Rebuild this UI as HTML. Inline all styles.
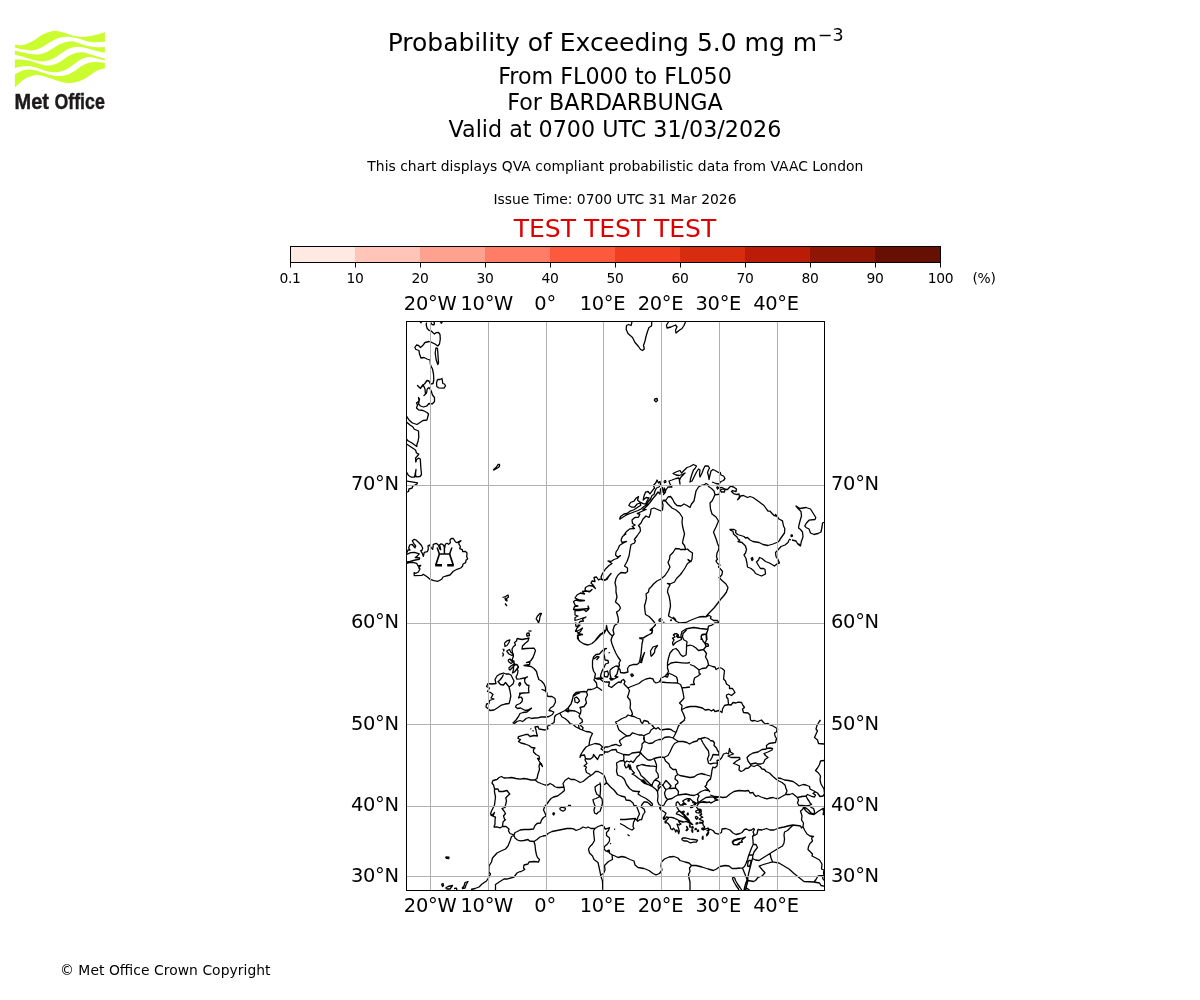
<!DOCTYPE html>
<html><head><meta charset="utf-8"><title>Probability of Exceeding 5.0 mg m-3</title>
<style>
html,body{margin:0;padding:0;background:#fff;}
svg{display:block;font-family:"DejaVu Sans","Liberation Sans",sans-serif;fill:#000;}
.t10{font-size:13.89px;}
.t14{font-size:19.44px;letter-spacing:-0.3px;}
.t16{font-size:22.22px;}
.t18{font-size:25px;}
.mid{text-anchor:middle;}
.end{text-anchor:end;}
.grid line{stroke:#b0b0b0;stroke-width:1;}
.coast path{fill:none;stroke:#000;stroke-width:1.3;stroke-linejoin:round;}
</style></head><body>
<svg width="1200" height="1000" viewBox="0 0 1200 1000">
<rect width="1200" height="1000" fill="#fff"/>
<!-- LOGO -->
<g id="logo"><path fill="#cbfc2f" d="M14.9 44.4C16.2 44.5 19.8 45.7 22.7 45.2C25.6 44.7 28.9 43.1 32.3 41.3C35.6 39.5 39.5 36.1 42.7 34.4C45.8 32.7 49.0 31.9 51.3 31.4C53.6 30.8 54.4 30.7 56.5 30.9C58.7 31.1 61.6 31.9 64.3 32.7C67.1 33.5 70.1 35.0 73.0 35.7C75.9 36.4 78.8 36.9 81.7 37.0C84.6 37.1 87.4 36.6 90.3 36.1C93.2 35.6 96.6 34.6 99.0 34.0C101.4 33.3 103.9 32.5 104.9 32.2L104.9 41.8C103.2 41.8 97.8 42.3 94.7 42.2C91.5 42.1 88.9 41.5 86.0 40.9C83.1 40.2 79.9 38.9 77.3 38.3C74.7 37.6 72.7 37.2 70.4 37.0C68.1 36.8 65.8 36.7 63.5 37.0C61.2 37.3 59.0 37.7 56.5 38.7C54.1 39.7 51.3 41.5 48.7 43.1C46.1 44.6 43.7 46.6 40.9 47.8C38.2 49.1 35.2 50.1 32.3 50.4C29.4 50.7 26.5 50.1 23.6 49.6C20.7 49.1 16.4 47.8 14.9 47.4Z M14.9 50.4C16.4 50.8 20.7 52.0 23.6 52.6C26.5 53.2 29.4 54.1 32.3 54.3C35.2 54.5 38.2 54.5 40.9 53.9C43.7 53.3 46.1 52.2 48.7 50.9C51.3 49.6 53.9 47.5 56.5 46.1C59.1 44.7 61.7 43.4 64.3 42.6C66.9 41.8 69.5 41.2 72.1 41.3C74.7 41.5 77.3 42.7 79.9 43.5C82.5 44.3 85.0 45.5 87.7 46.1C90.5 46.7 93.5 47.1 96.4 47.2C99.3 47.4 103.5 47.0 104.9 47.0L104.9 52.6C103.5 52.3 99.0 51.4 96.4 50.9C93.8 50.3 91.8 49.7 89.5 49.1C87.2 48.5 84.7 47.6 82.5 47.2C80.4 46.8 78.8 46.5 76.5 46.7C74.2 47.0 71.1 47.6 68.7 48.7C66.2 49.8 64.0 51.5 61.7 53.0C59.4 54.5 57.3 56.5 54.8 57.8C52.3 59.1 49.6 60.3 47.0 60.8C44.4 61.4 41.9 61.6 39.2 61.3C36.5 61.0 33.4 59.9 30.5 59.1C27.6 58.3 24.5 57.2 21.9 56.5C19.3 55.8 16.1 55.1 14.9 54.8Z M14.9 59.5C15.9 59.5 18.5 59.3 21.0 59.5C23.5 59.8 26.8 60.2 29.7 60.8C32.6 61.5 35.4 62.6 38.3 63.4C41.2 64.2 44.3 65.5 47.0 65.6C49.7 65.7 52.3 65.1 54.8 64.3C57.3 63.5 59.4 62.2 61.7 60.8C64.0 59.5 66.4 57.4 68.7 56.1C71.0 54.8 73.3 53.7 75.6 53.0C77.9 52.4 80.2 52.0 82.5 52.2C84.8 52.3 87.0 53.2 89.5 53.9C91.9 54.6 94.7 55.7 97.3 56.5C99.8 57.3 103.6 58.3 104.9 58.7L104.9 60.4C103.9 60.2 101.0 59.6 99.0 59.1C97.0 58.6 95.1 57.7 92.9 57.4C90.8 57.1 88.3 56.9 86.0 57.4C83.7 57.9 81.4 59.0 79.1 60.4C76.8 61.8 74.4 64.0 72.1 65.6C69.8 67.2 67.5 68.9 65.2 69.9C62.9 71.0 60.6 71.7 58.3 72.1C56.0 72.5 53.6 72.4 51.3 72.1C49.0 71.8 46.9 71.1 44.4 70.4C41.9 69.6 39.2 68.5 36.6 67.8C34.0 67.0 31.3 66.2 28.8 66.0C26.3 65.8 24.2 66.1 21.9 66.5C19.6 66.8 16.1 67.9 14.9 68.2Z M14.9 74.3C15.9 73.8 18.8 72.0 21.0 71.2C23.2 70.4 25.5 69.6 27.9 69.5C30.4 69.4 33.0 69.8 35.7 70.4C38.5 70.9 41.5 72.1 44.4 73.0C47.3 73.8 50.2 75.1 53.1 75.6C56.0 76.1 59.1 76.2 61.7 76.0C64.3 75.8 66.4 75.2 68.7 74.3C71.0 73.3 73.3 71.8 75.6 70.4C77.9 68.9 80.2 66.9 82.5 65.6C84.8 64.3 87.2 63.2 89.5 62.6C91.8 62.0 93.8 61.9 96.4 62.0C99.0 62.0 103.5 62.8 104.9 63.0L104.9 68.6C104.1 68.8 101.7 68.8 99.9 69.5C98.0 70.2 95.8 71.3 93.8 72.5C91.8 73.8 89.8 75.6 87.7 76.9C85.7 78.2 83.8 79.4 81.7 80.3C79.5 81.3 77.2 82.1 74.7 82.5C72.3 82.9 69.5 83.2 66.9 82.9C64.3 82.7 61.7 81.9 59.1 81.2C56.5 80.5 54.1 79.5 51.3 78.6C48.6 77.7 45.3 76.6 42.7 76.0C40.1 75.4 38.0 75.0 35.7 75.1C33.4 75.3 31.0 76.0 28.8 76.9C26.6 77.7 24.6 79.0 22.7 80.3C20.9 81.7 18.8 83.9 17.5 85.1C16.2 86.3 15.4 86.9 14.9 87.3Z"/>
<g font-family="'Liberation Sans',sans-serif" font-weight="bold" font-size="22.3px" fill="#1d1a1b" stroke="#1d1a1b" stroke-width="0.45"><text x="14.5" y="109.1" textLength="34.4" lengthAdjust="spacingAndGlyphs">Met</text><text x="54.4" y="109.1" textLength="50.4" lengthAdjust="spacingAndGlyphs">Office</text></g></g>
<!-- TITLES -->
<text class="t18 mid" x="615.6" y="51">Probability of Exceeding 5.0 mg m<tspan dx="0.6" dy="-9.7" font-size="17.5px">−3</tspan></text>
<text class="t16 mid" x="615" y="84">From FL000 to FL050</text>
<text class="t16 mid" x="615" y="110">For BARDARBUNGA</text>
<text class="t16 mid" x="615" y="137">Valid at 0700 UTC 31/03/2026</text>
<text class="t10 mid" x="615.3" y="171" textLength="495.9">This chart displays QVA compliant probabilistic data from VAAC London</text>
<text class="t10 mid" x="615" y="204">Issue Time: 0700 UTC 31 Mar 2026</text>
<text class="t18 mid" x="615" y="237" fill="#dd0000">TEST TEST TEST</text>
<!-- COLORBAR -->
<g id="cbar" shape-rendering="crispEdges">
<rect x="290" y="246" width="65" height="17" fill="#ffe9e2"/>
<rect x="355" y="246" width="65" height="17" fill="#ffc5b9"/>
<rect x="420" y="246" width="65" height="17" fill="#ffa18f"/>
<rect x="485" y="246" width="65" height="17" fill="#ff7d66"/>
<rect x="550" y="246" width="65" height="17" fill="#fd593d"/>
<rect x="615" y="246" width="65" height="17" fill="#f03e22"/>
<rect x="680" y="246" width="65" height="17" fill="#d72c10"/>
<rect x="745" y="246" width="65" height="17" fill="#ba1c07"/>
<rect x="810" y="246" width="65" height="17" fill="#8f1505"/>
<rect x="875" y="246" width="65" height="17" fill="#660f03"/>
</g>
<rect x="290.5" y="246.5" width="650" height="16" fill="none" stroke="#000" stroke-width="1"/>
<g stroke="#000" stroke-width="1">
<line x1="290.5" y1="262" x2="290.5" y2="267.5"/><line x1="355.5" y1="262" x2="355.5" y2="267.5"/><line x1="420.5" y1="262" x2="420.5" y2="267.5"/><line x1="485.5" y1="262" x2="485.5" y2="267.5"/><line x1="550.5" y1="262" x2="550.5" y2="267.5"/><line x1="615.5" y1="262" x2="615.5" y2="267.5"/><line x1="680.5" y1="262" x2="680.5" y2="267.5"/><line x1="745.5" y1="262" x2="745.5" y2="267.5"/><line x1="810.5" y1="262" x2="810.5" y2="267.5"/><line x1="875.5" y1="262" x2="875.5" y2="267.5"/><line x1="940.5" y1="262" x2="940.5" y2="267.5"/>
</g>
<g class="t10 mid" style="letter-spacing:-0.4px">
<text x="290" y="283">0.1</text><text x="355" y="283">10</text><text x="420" y="283">20</text><text x="485" y="283">30</text><text x="550" y="283">40</text><text x="615" y="283">50</text><text x="680" y="283">60</text><text x="745" y="283">70</text><text x="810" y="283">80</text><text x="875" y="283">90</text><text x="940.5" y="283">100</text>
<text x="984" y="283">(%)</text>
</g>
<!-- MAP -->
<defs><clipPath id="mapclip"><rect x="406.5" y="321.5" width="418" height="569"/></clipPath></defs>
<g class="coast" id="coast" clip-path="url(#mapclip)"><path d="M426.5 322.5 L426.2 325 L427.2 328.5 L429 330.3 L431 330.8 L433 332.8 L434.5 334 L436 332.7 L438.5 332.5 L440 334.5 L440.3 339 L439.5 344 L437.8 346 L435 344 L431 342.2 L429 341.5 L425 342.5 L422.5 345.8 L420.5 347.5 L418.5 345.5 L416.5 345 L414.8 347.5 L416 349.5 L419 350.5 L419.5 354 L421 358 L424 357.5 L427 359 L430 360 L430.5 365 L432.5 369 L433.5 374 L433.8 380 L433 383.5 L430.5 384.2 L429 381 L427 380.5 L424.5 384 L422.5 385 L420.5 388.5 L417.5 385.5 L420 388 L423.5 385.5 L425 389 L425.5 394 L424 395.5 L426.5 393 L427.2 389 L429 387.5 L431 390.5 L432.5 395 L434.5 397.5 L434.5 401.5 L432.5 403.8 L429 403.5 L427 405.8 L423.5 407 L420.5 406 L418.5 404 L419.5 399 L418.5 397.5 L419 401 L416.5 403 L417.5 405 L416.5 408 L418.5 409.8 L423 410.5 L427 412.5 L428.5 414 L427 420 M420 322.2 L421 322.8 L421.5 322.2 M430.5 322.2 L432 324.5 L434 324.8 L434.5 323 L433.5 322.2 M440.5 322.2 L441.2 323.2 L442.5 322.2 M406.5 416 L409 420 M436 347.5 L435.2 353 L436.2 360 L437.8 364.5 L438.5 363 L438 355 L437.5 348.5 L436 347.5 M437.5 379.5 L436.5 383 L436.8 386.5 L438.5 387.8 L444 388.2 L445.5 386 L444.5 384 L442.8 383.5 L442 378.5 L440 379.5 L437.5 379.5 M427 420 L423 420.5 L417 424.5 L412.5 423 L409 420 M406.5 422 L410 425 L413 427 L414 429 L418.5 431 L418.8 437 L418 441.5 L417 444 L416.8 446.5 L412 443 L408 440.8 L406.5 439 M406.5 444 L411 447 L415.5 450 L416.5 453 L418.8 454 L417 456.5 L415.5 458 L415.8 462 L416.5 459.5 L418.5 458.2 L420.3 459 L420.8 467 L421.5 474.5 L420 476.5 L416 476.8 L415.5 474 L416 469.5 L415.2 474 L414.5 477 L411.5 477.2 L408.5 475.5 L406.5 472 M406.5 481.2 L412 481.8 L417.5 482.8 L417 484 L414 485.5 L412.5 486.5 L412 488.2 L409 489 L408.5 491.5 L406.5 492.2 M493.2 470 L496.5 467 L498 464.5 L499.5 464.5 L499.5 466.5 L497.5 468 L494 470 L493.2 470 M406.7 553 L408 550 L410 550 L408.7 548 L409.7 545 L412 544.3 L415 547.7 L415.7 546 L413.7 543.3 L412.3 540.7 L414.3 539.3 L416 540 L419 542.7 L421.3 545.3 L422.7 548 L422 550.3 L420.7 550.7 L422.3 553.3 L423.3 556.3 L424.3 552.3 L427.3 551.7 L428.3 549.3 L428 545.7 L429.3 545 L431 547.3 L432.7 549.3 L433.3 544.3 L436.3 543.3 L438.3 545 L440 549.3 L440.7 549.7 L440 546.3 L439.7 544.8 L441 543.9 L442.7 544.3 L444 546 L444.7 547.7 L445.3 544.3 L447 543.3 L448.7 544.3 L450.3 542.7 L450 540 L451.3 538.5 L453.3 538.5 L455.3 541.7 L457 542.7 L461 540.7 L458.7 542.7 L459 544.3 L460 545.7 L460.3 546.7 L459.7 548.7 L462.3 549.7 L462.7 551.7 L465.3 551.3 L467 553 L466.7 556.7 L467.7 558.7 L466 560.3 L465.7 562.7 L463 564 L462.7 566 L460.7 568 L457 569.3 L453.3 571.3 L450 575 L446 576 L443 577 L441.7 579.3 L438 581.3 L434 580.7 L430 579.3 L427.7 577.3 L426.3 576.3 L423.3 574.3 L422 575.3 L414.3 575.7 L414.1 572.7 L416 573.3 L418.3 572 L420 569 L418.7 568 L420.7 565.3 L418 566 L416.7 563.3 L413 562.3 L409.3 562.7 L406.7 563.3 M406.7 554.3 L410.7 552.7 L414.7 552.3 L419.3 553.9 L417 556.3 L415.3 557.5 L419.7 558 L419.3 559.3 L415.3 560 L410 561.3 L406.7 562 M502.5 597.5 L505.5 596.5 L508 595 L508.5 597 L506.5 598.5 L507 601 L505.5 600 L505 597.5 M505 603.5 L507 606 M517 638.5 L522 639.5 L527 638.5 L529 638 L528 641 L525 643.5 L522.5 646 L522 649 L526 648.5 L534 648.2 L535.5 650.5 L534.5 653.5 L533 657.5 L530.5 661 L526.5 662.5 L530 662 L529.5 664.5 L524 665.5 L528 666 L531 666.5 L534 668.5 L536.5 671.5 L537.5 675.5 L538.8 679.5 L541.5 681 L544 684 L545.5 687.5 L545.5 691 L542 689.5 L545 690.5 L547 693 L547.2 696 L549 696.5 L552 696.5 L555 698.5 L555.5 702 L553.5 706 L550.5 708 L549 710.5 L551.5 711 L553.8 712 L552.5 714.5 L549 716.5 L546 717 L541 717 L538 717.8 L534.5 718 L531.5 718.5 L529 717.5 L526 718.5 L524 720.5 L522.5 721.5 L520 720.5 L517 721.5 L514.5 723.5 L513 723 L516 720 L518.5 716.5 L520 713.5 L523 712.5 L527 712 L529.5 710 L531.5 708.2 L528 710 L525.5 710.5 L523.5 709.5 L520.5 708 L517.5 708.5 L515.5 707 L516.5 705 L520 703.5 L522 701.5 L522.5 699 L521 697 L518.5 698 L519.5 695.5 L520 693.5 L523 693 L527 692.8 L529 692.5 L528.5 689 L529 685.5 L527 685 L525 682.5 L524.5 679.5 L526 677.5 L527.5 676.8 L524 678 L520 678.8 L517 679.2 L516 677 L517.5 674 L518 671 L517 668.5 L518.5 667 L516.5 664.5 L514 665 L514 661 L512 660 L513.5 656 L512.5 653 L512 649 L513.5 646.5 L515.5 645 L514.5 642.5 L516.5 641 L517 638.5 M504.5 643 L507.5 640.5 L509.8 639.8 L509 642.5 L507 645.5 L505 646.5 L504.5 643 M502.5 649 L504 649.5 L503.5 651.5 M502.5 652.5 L503.5 654.5 L502.5 656.5 M506.5 651 L509.5 649.5 L511 652.5 L513.5 654 L512 655.5 L509 654 L506.5 651 M508 660 L510 659 L511.5 661 L513 662 L511 663.5 L509 662 L508 660 M508.5 668.5 L511 666 L512.5 665 L514.5 663.5 L513 667 L510 670 L508.5 668.5 M513.5 666.5 L515 664.5 L517.5 665 L518.5 667.5 L516.5 669.5 L514.5 672 L512.5 673 L513.5 669.5 L513.5 666.5 M526.5 633.5 L529 633 L529.5 635.5 L527 636 L526.5 633.5 M528.5 630.8 L531.5 631.2 M518.5 684.5 L520 682.5 L520.8 684 L519.5 686 L518.5 684.5 M519.5 692.8 L521 693.5 L520 694.5 L519.5 692.8 M509 674 L511 675 L512.5 678 L514 681 L513 684 L510.5 686 L509 687 L510 691 L510.8 696 L510 700 L509 703.5 L505 704 L501.5 705 L498 707.5 L494 710 L490 710.5 L488.5 709 L486 707 L486.5 704 L489 703.5 L489.5 700.5 L494 699 L491 698 L493 694.5 L490.5 692.5 L487.5 691.5 L489.5 688 L486.5 686.5 L488 683.5 L492 684 L496 683.5 L495 679.5 L497 676 L500 674 L503.5 673 L506 674 L509 674 M503.5 674.5 L502 677.5 L499.5 680.5 L498 681.5 L500.5 684.5 L503.5 685 L505.5 682.5 L507.5 685 L509 686.8 M572.5 700 L571 704 L568 708 L565 710.5 L560 713 L556 715 L554.5 717 L554.5 720 M566.5 709 L568.5 708.5 L569 710.5 L567 711 L566.5 709 M632 322 L631 325.5 L628.5 324.5 L626.5 325.5 L626.2 329.5 L628 333.5 L632.5 337.5 L635 342.5 L638.5 346.5 L640.5 349.5 L642.5 350.5 L644.3 349 L643.5 345.5 L645 341 L646 336.5 L647.5 331.5 L649 327.5 L651.5 326 L651.8 322 M668.5 322 L666.5 325 L667 328 L671 327 L675.5 325 L677 327 L675.5 330 L676 333 L679 330.5 L682 328.5 L684 325.5 L685.5 322 M654.5 399 L657 398.5 L657.5 400.5 L656 401.8 L654.5 400.5 L654.5 399 M619.5 519.5 L620.5 516.5 L624 514 L627 513.5 L630 511.2 L633.5 510 L637 507.8 L640.8 505.2 L640 503 L637.2 504 L634.7 507 L631.8 507.2 L628.8 505.5 L630.5 502.5 L634 501.2 L636 498.2 L638.5 496.5 L637.5 500 L640 502.2 L643.2 503.7 L645.7 504 L647 501 L649 497.8 L646.2 497.5 L643.2 500 L644 496 L645.5 492.2 L648 491.5 L650 493.8 L652 491.2 L654.5 488 L653.5 485.5 L656 482.5 L657 480 L658.5 483 L660 481.5 L660.5 484.5 L659 487 L656.5 488 L655 491 L654 494.5 L652 495.5 L650.5 499 L648 502 L646.5 505 L644 506.5 L641 509 L638 510.5 L634 512 L630 513.5 L626.5 515 L623 517 L619.5 519.5 M621 540 L622.5 536.5 L625.8 534 L624 534.8 L626.8 531.2 L630 528.8 L634.5 528.5 L632.2 526.5 L635.2 525 L632.5 523.5 L632 520 L634.8 517.5 L638.5 517.2 L639.8 514.2 L637.2 513.5 L641.5 511.5 L646.2 509.5 L642.8 509.7 L647 506 L650 502.5 L652.5 499 L655.5 495.5 L658 492 L660 494 L660.5 489 L662.5 487.5 L663.2 492.5 L664.5 488 L665.5 492 L663.5 494.5 L666 490 L668 487 L672 487 L670 484 L669 481 L672 480 L676 478.5 L679 478 L680 484 L679.5 480 L681 477 L683 475 L685 473 L682 474.5 L679 475.5 L676 475 L673 473.5 L676 472 L680 470.5 L681.5 473 L684.5 470 L687 467.5 L690 466.5 L693.5 464.5 L696.5 466 L695 468.5 L693.5 470 L692 474 L690.5 479 L690 482 L692 481 L694.5 476 L696.5 472 L698.5 469 L700 470 L699.5 474 L700 477 L702 473 L703.5 469 L705 466 L708 465.8 L709.5 468 L708.5 470 L707.5 472.5 L708.5 476 L709 479.5 L710 475 L711 471 L713 469.5 L716 471 L718.5 472.5 L720 472 M664 481 L665.5 480.5 L666 482 L664.5 482.8 L664 481 M712 482 L716 483.5 L719 484 L720 483.2 M716.5 487 L718.5 488 L717.5 489 L716.5 487 M634 540 L637 536 L640.5 531 L640 527.5 L638.5 525.5 L641 523 L643 519 L646 516 L649 517.5 L650.5 513.5 L651 509 L654 508 L661 511 L662.5 510 L663 505 L662 501 M662.5 500.5 L665.5 501 L668 504 L672 508 L676 510 L679.5 513 L682.5 517.5 L682 522 L682.5 526 L683.5 530 L684.5 534 L683 540 M662.5 500.5 L666 500 L668 497 L670.5 496.5 L672.5 499 L674.5 503 L677 505.5 L681 506 L684 504 L687 505.5 L690 507.5 L691.5 504 L694 501 L695 496 L696 491 L698.5 487 L701 485.5 L704 485 L706 483.5 L708 484.5 L708.5 486.5 L711.5 488.5 L714 491 L715 494.5 L713.5 498 L712 501 L710 503 L710.5 509 L712 514 L716 517 L718.5 521 L716 527 L713.5 532 L715 536 L716.5 540 M715 494.8 L717.5 494.5 L720 493.8 M720 472 L721 475 L723.5 476 L725 478.5 L723.5 480.5 L721 481.5 L719.5 483 M717 486.5 L719 488 L722 487.5 L725 489 L724.5 492 L721.5 492 L720 490 L723 489 L727.5 489.5 L730.5 486.2 L733.5 487 L736.5 489 L736 491.5 L732.5 490.5 L731.5 491.5 L733.5 493.5 L737 494.5 L739 494 L739.5 497 L737.5 499.8 L739.5 498 L740.5 496 L743.5 495.5 L747.5 497.5 L750 496.5 L753 497.5 L758 501 L764 505.5 L768 511.2 L770 511.2 L774 515.5 L776.5 516 L775.5 514.5 L779 519 L782.5 520.8 L783.5 526 L784.8 528.5 L784.5 533 L782 536.5 L779.5 540 M729.5 529.5 L734 529.5 L736 530.5 L735.5 532.5 L737.5 534.5 L744 536.5 L745.5 538 L747.5 537.5 L750 540 M730 530 L733 531.5 L733.5 534 L737 537 L738 539 L740 540 M802 540 L803 536.5 L802.5 532 L800.5 529.5 L798.5 528 L799 525 L800 521 L801.5 516 L801 511.5 L798 508.5 L796 506 L800 508.5 L806 507.5 L810.5 509 L813 513 L815.8 517.5 L815 519.5 L809 520.2 L806.5 523 L804.8 525.8 L806 527.5 L809 529 L810.5 533 L814 534.5 L818 533.5 L821 532 L822 527 L822.5 523 L824 522.2 M790.8 535 L792.2 534.8 L792.5 536.2 L791.2 536.5 L790.8 535 M789 539.2 L791 540 M621 540 L622 542.5 L626.5 541.5 L622.5 543.5 L619.5 545.5 L618 549 L616 552 L615.5 555 L617.5 557 L620.5 555.5 L617 558.5 L614 559.5 L611 561.5 L608 561 L612 563.5 L609 565.5 L605.5 569 L602.5 573.5 L601 577 L602 579.5 L605.5 580 L608 577 L611 573.5 L609 576 L607 579.5 L604 580.5 L600 579 L598.5 580 L596.5 577 L594 577.5 L595 581.5 L592 581 L591 583 L593.5 585.5 L595.5 588.5 L592.5 586 L589 585.5 L585.5 587.5 L585 590 L589 592 L592 589.5 L590 591.5 L586 591 L582.5 591.5 L584.5 594 L580.5 593 L577 595 L575 598 L579.5 600 L584.5 600.5 L580 601 L576 600 L573.5 601.5 L575 605 L578 606 L574.5 606.5 L573.5 609.5 L578 609.5 L584 609 L589 608.5 L588 606 L588.5 609.5 L586 611.5 L584 609.5 L579 610.5 L575 610.5 L575 615 L578 616 L575 617.5 L575 620.5 L580 619 L586 617 L582.5 619 L583.5 621 L580 621.5 L578.5 624 L575.5 623 L576 626.5 L580 625 L577 628 L575.5 631.5 L579.5 630 L582.5 628 L580.5 631.5 L578 633.5 L582.5 634.5 L578 635 L578.5 640 M634 540 L635.5 540.5 L634.5 543 L631 544.5 L630 550 L629 556 L627 561.5 L624.5 566 L627.5 568 L627.5 571.5 L625.5 573 L621 572.5 L618 575 L616 578.5 L615 583 L616 587 L616 592 L617 597 L615.5 602 L619 605 L620.5 608 L619 610.5 L616.5 612 L618 617 L618.5 621 L617.5 623.5 L614.5 625.5 L613 630 L614 634 L612.5 636 M611 640 L612.5 636 L610 634 L607.5 630.5 L606.5 625.5 L606 630 L604 633.5 L600.5 634 L598 637 L595.5 640 M680 549 L675.5 548.5 L673 552.5 L670 555.5 L669.5 559 L668 562.5 L670 567 L668 571 L665 575.5 L661 579 L657 581 L653.5 584 L651.5 586.5 L649 589 L648.5 592 L646 594 L646.5 598 L645.5 602.5 L644.5 606 L645 611 L645.5 614.5 L649 616.5 L652 619.5 L654.5 622.5 L655.5 625 L653 627.5 L650 630 L652.5 629 L651.5 633.5 L647 635.5 L643 638 L639.5 638.5 M680 575 L676.5 578.5 L674.5 582 L670 584 L667.5 583.5 L670 585 L668 588.5 L667.5 592 L669 596 L670 601 L670.5 606 L669.5 611 L668.5 616 L671 617.5 L674 619 L676.5 621.5 L680 623 M658.5 620.5 L660.5 618.5 L662 620 L660 621.5 L658.5 620.5 M663 622 L664.5 622.5 M670 620.5 L672 620 M673 617 L676 620 M673 635.5 L675 633.5 L677.5 634.5 L676.5 636.5 L679 637.5 L680 637 M683 540 L682.5 543 L684.5 545.5 L685.5 549 M680 549.5 L686 549.5 L687.5 549 L689.5 551 L692.5 553 L692 559 L691 561.5 L688 559.5 L690 562 L687.5 563.5 L685 568 L682 572.5 L680 575 M716.5 540 L717.5 543.5 L719 547 L718.5 550 L717 553 L716.5 557 L717.5 559 L716 561 L717.5 563.5 L720 565 L718.5 567 L720.5 569 L722.5 571.5 L722 574.5 L720 577 L719 577.5 L722 580.5 L726 584 L728 587.5 L726.5 592 L724 595.5 L720.5 599.5 L717.5 603.5 L714 608 L710 612 L706 616.5 M680 623 L686 622.5 L690 620.5 L695 618.5 L699 617 L703 616.5 L706 616.8 L709 615.5 L711 616.5 L710.5 618.5 L713.5 620.5 L717.5 620.5 L719 622.8 L715 622.8 L712 625 L708.5 626 L707.8 629.5 M681.5 640 L681 635 L682 631.5 L686 629 L690.5 628 L694 627.5 L700 628.5 L705 629 L708 629.5 L706.5 634 L707 640 M701 640 L701.5 635.5 L705.5 634.2 M740 540 L738 541.5 L742 542.5 L745.5 546 L746.5 549.5 L745.5 553 L744 555 L746 558.5 L747 563.5 L747.5 567 L751 568.5 L754 571 L755.5 573.5 L759 575 L761.5 576 L765.5 574 L765 569.5 L763.5 568.5 L760.5 568.5 L758.5 565.5 L756.5 562 L758.5 560 L759.5 557.5 L762 558.5 L765.5 561.5 L769.5 563 L774.5 566 L777.5 563.5 L779.5 563 L778 559.5 L776 556.5 L775.5 552.5 L777.5 550.5 L781 546.5 L785 545 L788 542.5 L789 540 M750 540 L753 541.5 L759 542.5 L763 544.5 L768 545.5 L773 544 L778 542 L780 540 M751 558 L752.5 557.5 L753 559.5 L752 560.5 L751 558 M792 540 L796 541 L797.5 543.5 L800 544.5 M797.5 544 L800.5 546 L801.2 542 L801.8 540 M575 630.5 L577.5 632 L580 634.5 L582.5 634.5 L577.5 635.5 L577.5 638.5 L580 641.5 L584 644 L588 645 L592 643.5 L596 640 L600 635.5 L602.5 633.5 L601 634 L603.5 632 L605 630 M612.5 635.5 L611 640 L612 644 L614 649 L616 653.5 L618 657 L620.5 660.5 L619 663 L619.5 665.5 L618 667.5 L620 669.5 L620.5 672.5 L624 673 L628 672 L627.5 668.5 L629.5 665.5 L633 664.5 L637 664.5 L639 663 L640 659.5 L641 654.5 L641.5 649 L642 644 L643 639.5 L639.5 638 L643.5 638 L647.5 635.5 L652 633 L652.5 630.5 L650 630 M640.5 663 L642 658 L644.5 652.5 L643 657 L641.5 662.5 L640.5 663 M651 656.5 L650.5 651 L653 647 L657.5 645.5 L655 649 L654.5 652.5 L652.5 655 L651 656.5 M630.5 674.5 L632 673.8 L633.5 675.5 L632 676.5 L630.5 674.5 M594.5 678 L595.5 674 L593.5 671 L592.5 667 L592.5 661 L593.5 657 L596 654.5 L599.5 654 L602 651 L604.5 649 L606.5 648.5 L604.5 649.5 L603.5 653 L604.5 656.5 L605 660 L608 660.5 L608.5 663 L605.5 664 L604 667.5 L602.5 670 L601 674 L600.5 676.5 L602.5 678.5 L599 678 L596.5 678.5 L594.5 678 M594 659 L597 656.5 L599 657 L596.5 660 M604 672 L607.5 671 L608.5 674 L607.5 677 L604.5 676.5 L604 672 M610 670 L613 667.5 L616 666 L619 666.5 L618 670 L617 674 L615 676.5 L618 677 L614 679 L611 678 L610 674 L610 670 M609.5 678 L613 679.5 L611 680 L609.5 678 M608.5 653 L610 652.5 M594.5 678.5 L594 680 L596.5 683 L597 687 L594.5 688.5 L591.5 689.5 L588 689.5 L586.5 692 L584 691.5 L580 692 L576 692.5 L573.5 695 L572.5 699 L571 704 L570 705 M597 687 L600 689 L602 690.5 M574.5 698 L576.5 697 L578.5 699 L579.5 701 L577.5 703 L575 702 L574.5 698 M574 696 L577 693.8 L580 692.8 M586.5 692 L587.5 695 L585.5 699 L586.5 703 L584 706.5 L580 707.5 L581 710 L580.5 713.5 L579 716 L580 718 L582 719.5 L582.5 722 L580 723.5 L581 726 L583 727.5 L582.5 730 M570 710.5 L575 711 L578 712.5 L580 714 M596.5 679 L600 679 L602.5 681 L606 682 L609.5 682 L608.5 686 L611.5 687.5 L615 684.5 L618.5 682 L621 682.5 L621.5 680.5 L623.5 679.5 L625 681.5 L624 684 L626 686 L628 688 L630 687 L635 685 L639 683.5 L642 681 L646 679 L650 678.2 L653 679 L654 681.5 L656 683 L659 682 L660.5 680 L661 678 L663.5 677 L666 675.5 L667.5 673 L668.5 671.5 L667.5 668 L667.5 663 L668.5 658 L670 653 L673 649.5 L676 648.5 L678.5 651 L680.5 654.5 L683 656.5 L686 655 L686.5 650 L686.5 646 L687 641.5 L684 640 L682.5 637 L683 633.5 L685 631.5 L686.5 630 M686.5 646 L690 645 M666 674.5 L668.5 674 L667.5 677 L665.5 676.5 L666 674.5 M660.5 682 L666 682.5 L672 682.8 L677.5 683 M668.5 673 L673 675 L676.5 677 L677.5 680 L677.5 683 L680.5 684.5 L682 688 L683 692.5 L684 698 L682.5 700 L679.5 703 L682 705.5 L681.5 710 L683.5 714 L685 718 L684 720.5 L680.5 723 L678.5 726 L677 730 M682 687.8 L686 687.5 L690 687 M682 709.5 L686 707.5 L690 706.5 M673 645.5 L672.5 642.5 L674 640 L672.5 638 L675 637 L673.5 634.5 L676.5 633.5 L678.5 635 L677.5 637.5 L681 637 L681.5 639.5 L678.5 641 L675.5 642.5 L673 645.5 M667.5 665.5 L671 663 L676 662.2 L682 662.8 L687 663.2 L690 662.5 M628 688 L629.5 690.5 L628.5 694 L627.5 697 L630 700 L630.5 704 L630 708 L631.5 711 L632.5 714 L631 716 M631 716 L628 715 L626 717 L622 718.5 L618 721 L615.5 722 L617 724.5 L618 727.5 L619 730 M631 716 L634 716.5 L637 718 L640 719 L641 722 L642.5 723.5 L644 720.5 L648 721.5 L649 723.5 L651.5 724.5 L654 727.5 L656 729 L658 727.5 L660 729.5 L661.5 730 M708 630 L706 634 L702 634.5 L701 636.5 L703 641 L705 643.5 L708 644 L708.5 646 L706 646.5 L703.5 649.5 M706 634 L706.5 640 L705 643.5 L706 646.5 M690 645 L693 646 L696 648 L698.5 650.5 L703.5 649.5 L706.5 653.5 L705.5 657 L707.5 660.5 L708.5 665 M690 664.5 L694 666 L698.5 669.5 L699 670 M708.5 665 L706 668 L702 668.5 L699 670 L699 673 L700.5 674 L698 676 L694.5 678 L693.5 682 L694.5 684.5 L691.5 684.5 L690 685 M708.5 665 L712.5 666.5 L715 667 L716 669.5 L719.5 667.5 L722 668.5 L724.5 670.5 L724 675 L723.5 679 L725.5 681 L726.5 684 L729.5 686 L729.5 688.5 L732.5 688.5 L735 692.5 L731.5 695.5 L728.5 694 L726.5 695 L726.5 697 L728 699 L728.5 704.5 M690 706.5 L696 706.5 L702.5 708 L705 710 L709 709.5 L711.5 711 L713.5 709.5 L715 711.5 L719 710.5 L722 712.5 L722.5 709 L724.5 705.5 L728.5 704.5 L731 705 L733 702.5 L736 703 L738 702.2 L741.5 702.5 L743 705.5 L744.5 707.5 L742.5 709 L743.5 712.5 L748 713 L750 715 L750.5 720 L752 721 L754.5 720.5 L757.5 721.5 L761.5 720 L763.5 722.5 L765.5 724 L768 723.5 L770 725 L773 726 L777 728.5 L778 730 M554.5 720 L554 722.5 L550 725 L547 726.5 L548 729 L545 730 L542 729.5 L539 729 L538 726.5 L535 727 L536 730 L536.5 733 L537.5 736 L534 735.5 L530 736.5 L528 734.5 L525.5 734.5 L522 735.5 L518.5 736.5 L518 738.5 L520.5 739.5 L518.5 741.5 L521 743 L525 744 L529 745.5 L531.5 747.5 L535 748 L533.5 749.5 L533.5 752 L536 754.5 L539 756 L539.5 759 L537.5 758.5 L540 762.5 L541.5 764 L542.5 766.5 L540 763 L539 766 L539.5 769.5 L538 774 L537 778.5 L535 779.8 L531 780 L527 779 L524 778.5 L520 779.2 L516 778.5 L511.5 777.5 L508 777.8 L504 778 L501.5 776.5 L499 777.5 L497 779.5 L493 780.5 L492 783 L493.5 785 L494.5 788.5 L494.5 792 L495.5 797 L495 801 L494.5 805 L493 808 L491.5 811 L490.5 814 L492.5 815 L494.5 812.5 L493 816 L495.5 817 L495 820 M494.5 789 L498 789 L499 791.5 L503 791.5 L507 790.5 L508.5 792.5 L509.8 794 L507.5 796 L505.8 798 L506.5 801 L505.5 805 L505 807.5 L502 808.5 L504 811 L505.5 813.5 L503.5 816 L504.5 819 L506 820 M535 779.8 L537.5 782 L541 783.5 L545 785 L548 785 L550 783.5 L553 785 L554.5 786.5 L557 787.5 L560 787.5 L564 787 M564 787 L564.5 790.5 L561.5 793 L557.5 796 L553.5 797 L551 798.5 L549 801 L546.5 804.5 L544.5 807 L543.5 810 L545 813 L546 816 L543.5 817.5 L541.5 820 M564 787 L563 783.5 L565 780.5 L568.5 778 L571 779.5 L574.5 779.5 L577.5 781 L580 782.5 L583 781.5 L586 779 L589 776.5 L590.5 775.8 L593 774 L595.5 771.5 L598 771.5 L600 772.5 M590.5 775.5 L589.5 774 L586.5 772.5 L585.5 769 L586.5 767 L584 766 L587 763.5 L585 760 L585.5 758.5 L584.5 755 L581 755.5 L580 757.5 L580.5 755 L583 751 L586 747 L589 745.5 M585.5 758.5 L587.5 759 L590.5 759 L593 757 L593.5 754.5 L595.5 757 L597.5 759.5 L600 754.5 M589 745.5 L592 744.5 L595 743.5 L598 744 L600 744.5 M589 745.5 L589.5 741.5 L590.5 737.5 L592.5 733.5 L590 732 L586 731.5 L582.5 730 M578.5 724.5 L579 728 L580 729.2 L582.5 730 M560 713.5 L562 717 L565 718.5 L568 721 L570 723.5 L573 724.5 L576 727 L579 728.5 M565 710.5 L568 712 L570 710.5 M530.5 728.5 L531.2 729.2 M532.5 730.5 L533.7 731.2 M559.5 808.5 L562 807 L565.5 808 L565 810 L563 811.2 L560.5 810 L559.5 808.5 M568 805.5 L570.5 805.5 L570 806.5 L568 805.5 M553.5 812.5 L554.5 813.5 L553.8 815 L552.8 814 L553.5 812.5 M600 784 L597.5 785 L595 787 L595.5 791 L597 794.5 L600 796 M600 796.5 L596 798.5 L593 799.5 L593.5 802 L595 806 L594 810 L594.5 813 L596.5 814 L598.5 812 L600 811.5 M619 730 L623.5 733.5 L627 736 L630 735.5 L632.5 732.8 L636 734 L639 735 L642 735 L644 735.8 M654 728 L651 730 L649.5 733 L646 734.5 L644 735.8 M661.5 730 L664 729.5 L668 729 L671 729.5 L673 731 L676 732.5 M677 730 L676 732.5 L674.5 735.5 L673 738 M677 730 L678.5 726 L681 723 L684 720.5 L685 720 M644 736 L643.5 739 L645.5 742 L649 743.5 L652.5 743 L655 741 L659 739.5 L662 739.5 L664.5 737.5 L667 737 L670 737 L673 738 L676 740 L678.5 741.5 M644 736 L644.5 741.5 L642 744 L642 747 L641 750 L640 752 M678.5 741.5 L674.5 743.5 L672.5 746.5 L670 752 L668 755.5 L664 757.5 M678.5 741.5 L683 741.5 L687 742.5 L689.5 744 L693 742 L697 741 L698.5 739 L701 738.5 L705 737.5 L708 738.5 L710 740 M701 739 L703 743 L705.5 747 L708.5 751 L709 755 L707.5 759 L708.5 763 L710 764 M600 744.5 L602.5 747 L601 749 L603 750.3 L605 747 L608 747 L611.5 745.5 L616 744.3 L619.5 746 L621.5 745 L620 742.5 L619.5 740.5 L622 738.8 L624.5 737 L627 736 M600 754.5 L601 755 L603.5 754.5 L605 752 L603 750.3 M605 752 L608 752 L611.5 750 L616 749.5 L617 752 L621 753.5 L623.5 754.5 M623.5 754.5 L629 755 L632 753 L636 752.5 L640 752 M640 752 L642 754.5 L645 757.5 L648 760 L651 760 L654 758.5 L658 757.5 L661 757 L664 757.5 M623.5 754.5 L624 758 L623.5 760 L625 762.5 M625 762.5 L627 761 L629.5 762 L631 761 L633 762.5 L635 760 L636.5 757.5 L639 755.5 L640 754 L640 752 M600 772.5 L603.5 774.5 L605 777.5 L606.5 782.5 L604.5 784.5 L607 783 L610.5 787 L614 790 L617.5 794.5 L621 796 L625 797 L626 800 L630 800.5 L633 803 L634 805.5 L636.5 806 L638 810 L639.5 814 L638 817 L637 820 M625 762.5 L623.5 760.5 L620 761 L616.5 763 L617 767 L616.5 771 L617.5 775 L622 777 L624.5 779.5 L626.5 784.5 L629.5 788.5 L633 791 L637 791.5 L639.5 791.5 L638 794 L641 796 L646 798.5 L650 801.5 L652.5 804 L652 806.5 L649 803.5 L647 802 L644 802 L642 804.5 L641 807 L644 809 L645 812 L643 815 L641.5 820 M625 762.5 L624.5 765 L626 768 L628 766.5 L628.5 764.5 L630.5 768 L632.5 771 L634.5 773 L632 774 L635 775.5 L638 778 L641 780 L644 782 L647 784 L650 785.5 L653 787 L656 789.5 L657.5 791.5 M628.5 765.5 L630 765 L631 768 L630 769.5 L628.5 765.5 M641 780.5 L643.5 780 L646 783 L647.5 784.5 L644.5 783.5 L641 780.5 M636.5 766 L639 765.5 L642 764.5 L646 765.5 L650 766 L654 766.2 L656.5 767 M636.5 766 L637.5 769 L639.5 772 L641 775.5 L644 778 L647 781 L650 784 L652 785.8 M656.5 767 L656 771 L658 774 L658.5 777.5 L656 779 L654 781 L652.5 783.5 L652 786 M654 758.5 L655.5 762 L656.5 765 L656.5 767 M664 757.5 L665.5 761 L669 764 L670 767 L673 769.5 L676 769.5 L677 773 L678 774.5 L675.5 776 L675 779 L677.5 781 L678 783 L675.5 785 L675.5 788 M678 774.5 L680 775.5 L685 776.5 L690 777.5 L694 777 L697.5 774.5 L701 773.5 L705 774.5 L710 776 M710 779 L707 782.5 L706.5 785 L705 786.5 L708 789.5 L710 792 M697.5 794 L701 791.5 L705 790 L708.5 790.5 M678 795 L682 794.5 L686 794 L690 795 L694 795.5 L697.5 794 L699 796 L697.5 799 L698 801.5 L697.5 803 M698 803 L702 800 L706 797.5 L710 797 M698 803.5 L703 801.5 L707.5 802.5 L710 801.5 M655 780 L657 780.5 L660 782.5 L659 785 L658 786 L658.5 789 L657.5 791.5 M663 785 L664.5 782.5 L666 780.5 L668.5 783 L671 786 L669 788.5 L666 789.5 L664.5 788 L663 785 M660 784 L663 785 M666 789.5 L664.5 793 L665.5 797 L667.5 799.5 L672 798.5 L675 796.5 L678 795 L678.5 791.5 L677 789.5 L675.5 788 L671 788.5 L669 788.5 M657.5 791.5 L658 796 L657.5 801 L659 804.5 L661.5 806 L664 805 L665.5 802 L667.5 799.5 M658.5 789 L660 787 L663 785 M600 796 L600.5 790 L600.5 785 L600 783 L600 784 M598.5 796 L600 796.5 L602 799 L602.5 803 L601.5 807 L600.5 810 L600 811.5 M778 730 L777 729 L776.5 732 L774.5 733 L775 736 L776.5 738.5 L775.5 742.5 L772 743 L769 743.5 L766.5 745.5 L766.5 748.5 M766.5 749 L762 749.5 L758 752 L753 753 L749.5 755 L747 757.5 L748 761 L751 765 M766.5 748.5 L770 748 L772.5 748.5 L772 750 L768 752 L764 753.5 L765.5 755.5 L768 757.5 L765 759.5 L763.5 763 L761 764 L758 764 L756 763 L751 764 M710 740.5 L713 741 L714.5 743 L714 745.5 L716.5 748 L717.5 750.5 L719 752.5 L718.8 755 L713 754.5 L712 757.5 L710 761 M710 764 L714 763.2 L717 762.8 M710 780 L710.5 779 L711.5 774 L712 770 L713 767 L715 767.8 L717 766 L717.5 763 L717 760.5 L719.5 760 L721.5 758 L723.5 754 L726.5 753 L728.5 754 L729.5 748.5 L730.5 752 L733.5 754 L730.5 755 L728 756 L731 757.5 L735 757.5 L739.5 757.5 L740 759.2 L736.5 761 L733.5 763.5 L736.5 764.5 L739.5 766 L739 770 L741 771.5 L743.5 770.5 L745.5 768.5 L748.5 768 L751 765.5 L754 766.5 L757 765 L760 766.5 L762 769 L764.5 769.5 L766 771.5 L769.5 773 L773 776.5 L776.5 779.5 L779 781 L782 782.5 L785 785 L786 788.5 L787 791 L785.5 794.5 L782 796.5 L778.5 798.5 L776 798.5 L773 797.5 L770 798 L767 798.8 L764 798 L761 797 L758 795.5 L756 796.5 L754 794.5 L753 792.5 L750 793 L748.5 790.5 L745 791 L739 790.5 L734 791.5 L730 794 L726.5 797 L723 797.5 L719.5 796.8 L715 796.5 L710 795 M778 778 L781 778.5 L784.5 780 L788.5 780.5 L793 781.5 L796 783.5 L799 786 L803 784.5 L806 785 L809.5 786.5 L810 789 L814 791 L817.5 793 L820 796.5 L823 796 L824.5 794 M785.5 794.5 L789.5 794.5 L792.5 793.5 L795 795.5 L797.5 797.5 L802 796.5 L806 796 L807.5 794.5 L811 796 L814.5 797 L815.5 795 L813 793.5 L815 792 L817.5 793 M797.5 797.5 L798.5 800 L797.5 803 L799 805.5 L802.5 805.5 M806 796 L807.5 799 L809 801 L810 803 L811.5 804.5 L809 805.5 L806 806 L802.5 805.5 M824.5 794 L824 789 L821 784 L820 780 L820.5 776 L818.5 773 L815.5 770.5 L817.5 768 L819.5 764.5 L820.5 761 L824 760.5 M824 744 L818.5 743.5 L817.5 740 L814.5 737.5 L816.5 733 L817.5 731 L816 729 L817 725.5 L819 722 L820.5 720 M495 820 L495 824 L494 827 L497 826.8 L500 827.8 L502.5 826.5 L506 826.5 L509 829 L508.5 831 L510 833.5 L514 835 L515 832.5 L517.5 831.5 L520 830 M490.5 815 L492.5 816 L494.5 812.5 L493 816 L495.5 817.5 M505.5 819.5 L503 822 L502.5 826.5 M520 840.8 L517.5 840 L515 838 L514 835.5 L511.5 836.5 L510 841 L508 846 L505.5 849 L501 851 L497 853 L492.5 858 L491.5 862 L489 866 L488.8 872 L490.5 874 L489 877 L486.5 881 L482 884 L479 887 L475 888.5 L471 889.5 M520 871.5 L517 873 L514 877 L507 879 L504 879 L500 881.5 L495.5 884.5 L495.5 890.5 M445.5 857 L449 857.2 L448.8 858.5 L446.5 858.3 L445.5 857 M441.5 884 L443 883.5 L443.5 885.5 L442.5 886.5 L441.5 884 M445.5 888 L448 886.5 L452.5 885.5 L450 889 L447 889 L445.5 888 M454 888.5 L456.5 888.2 L456.8 890 M462 888.5 L464 886 L465 882.5 L468 881.5 L466 885 L465 888 L462 888.5 M520 830 L524 829.5 L529 829.5 L533.5 829 L535 825.5 L537 823.5 L540.5 823 L541.5 820 M520 840.8 L524 840.5 L528 839.5 L529.5 841 L534 841.5 L537 839.5 L540 837 L543 836 L546 835.5 L548 833.5 L552 831.5 L557 830.5 L562 829.5 L567 828.5 L571 828.3 L574 829 L576 830.5 L580 829 L583 827 L586 828 L588 827 L591 828.5 L595 828.5 L598 826.5 L602 825.2 L604 826.5 L605 829 L607.5 828.5 L609.5 827.5 L608.5 830.5 L606.5 832.5 L606.5 835.5 L609.5 838 L609.5 841 L607.5 844 L604.5 846.5 L604 849 L606 851 L608.5 851.5 L610 853.5 L612 854.8 L615 856 L618 857.5 L622 856.5 L626 857.5 L630 859.5 M534 841.5 L535 845 L535.5 850 L536.5 855 L537.5 857.5 L539.5 859.5 L538.5 862 L534 861.5 L529 862 L528 864 L524 865 L523.5 868 L524.8 869.5 L522 871 L520 871.8 M595 828.5 L593.5 831 L594 836 L594.5 840.5 L592.5 844 L590 846.5 L588.5 849 L589.5 853 L592.5 856 L594 859.5 L598 862.5 L599 867 L600.5 874 L601 875.5 M612 854.8 L612.5 859.5 L608.5 861.5 L604.5 865.5 L605 870 L603.5 873.5 L600.5 875 L602.5 881 L602.8 890.5 M614 829 L615.2 829.4 M610.2 843.2 L611 844 M607.5 850.5 L609 850 L609.5 851.5 L608 852 L607.5 850.5 M630 859.5 L634 861 L635 865 L638 867.5 L644 868.5 L649 870.5 L653 873.5 L656 874.8 L659.5 873.5 L662 870 L661 866 L661.5 862 L664.5 859 L669 857 L674 856.5 L678 858 L680 860.5 L685 862 L689 863 L691.5 865.5 L696 865.5 L702 867 L708 869 L713.5 870.5 L716.5 869 L720 866.5 L725 865.5 L729 866 L732 868.5 L736 868.5 L740 868 M691.5 865.5 L689.5 868 L690 871.5 L688.5 874.5 L689 878 L690 882 L690 890.5 M620 819.5 L625 819.5 L630 819 L635.5 818.5 L633.5 822.5 L633 826.5 L634 828.5 L632 830 L628.5 828.5 L624 825.5 L620 823.5 M637 820 L636.2 819.5 L637.8 821.2 L640 819.5 L641.5 820 M627.5 834.5 L629.5 836 M681.5 839.5 L683 837.8 L686 838 L690 839.2 L694 839.5 L697.5 840.2 L696.5 842 L693.5 842.2 L690 842.8 L687 841 L684 841 L681.5 839.5 M740 839 L738 839.5 L734.5 840.5 L732.5 842.5 L734 844.5 L737.5 844.8 L740 844 M709.5 829 L713 830.5 L715 833 L718.5 834 L721.5 832.5 L722 829 L726 828.5 L730 830 L733 833 L736 834.5 L740 833.5 M697.5 803 L696.7 803.3 L693.3 801.7 L690 798.7 L687.3 798.7 L684.7 799.7 L682.7 801 L684 802.7 L686 804.3 L684.7 804.3 L682.7 803.7 L683.3 805 L681.3 805 L680 805 L679.3 803.7 L677.7 801.7 L676.3 802.7 L676 805.3 L677 807.3 L678.3 809.3 L679.3 811.3 L677.3 812 L676.3 814 L678.7 814.7 L681.3 816 L684 817.3 L686 819.3 L688.7 821.3 L691.3 823.3 L692.7 824.7 L690.7 824 L688.3 822.3 L686 821.3 L684 822 L682 821.3 L679.3 820.7 L676.7 819.3 L674 818 L671.3 817.3 L668.7 817.3 L666.3 817 L665 819.3 L663.7 818.7 L665 815.3 L666 813.3 L663.3 811.3 L661 810 L660 808 L661.5 806 M679.3 810.7 L681.3 812.7 L684 815.3 L686 818 L688 820 L690 822 L689 820 L686.7 817.3 L684.7 815 L682 812.3 L679.3 810.7 M668.7 818 L667 819.7 L665.7 822.3 L668 823.3 L670 826 L670.7 828.7 L672.3 829.7 L673.3 828.3 L675 830 L675.7 832 L676.7 830 L678 831.3 L678.7 833.7 L679.3 831.3 L678.7 828.7 L677.7 826 L677 824 L679.3 825 L681 824 L679.3 822.7 L678.7 820.7 L682 822 L684 822 M663.7 816.7 L664.3 818 L663.7 819.3 L663.3 818 L663.7 816.7 M665.3 820.7 L666 822 L665.3 823 L665 821.7 L665.3 820.7 M659.7 807 L660.7 809.3 L660 809 L659.7 807 M686 829.7 L687 829.3 L687.3 830.3 L686.3 830.7 L686 829.7 M691.3 827 L692.7 826.7 L693.3 827.7 L692 828.3 L691.3 827 M691.7 829.3 L692.7 830 L692.7 832.3 L692 831.7 L691.7 829.3 M694.7 829 L696 828.3 L696.3 829.3 L695 829.7 L694.7 829 M697 830.3 L698.3 830 L698.7 831.2 L697.5 831.5 L697 830.3 M695.7 823.3 L697.7 822.7 L697.9 823.7 L696 824.1 L695.7 823.3 M687 813.3 L688 813 L688.3 814.7 L687.3 814.8 L687 813.3 M682.3 811.7 L684 811.2 L684.3 812 L682.7 812.3 L682.3 811.7 M695.3 811.3 L698 810 L701 809.7 L701.3 812 L699.3 813 L696.7 812.7 L695.3 811.3 M695.3 816.7 L696.7 816.3 L698 818 L696.7 819.3 L695.7 818.3 L695.3 816.7 M699.3 822.3 L702.7 822.1 L703 823 L699.7 823.2 L699.3 822.3 M706.3 835.3 L707.7 832.7 L708.7 832.3 L708 834.3 L706.7 835.7 L706.3 835.3 M702.3 836.7 L703 836.3 L703 839.3 L702.3 839 L702.3 836.7 M701.3 828.7 L702.7 828 L704.7 829.3 L703.3 830 L701.3 828.7 M687.7 800 L689 799.7 L689.3 801 L688 801.2 L687.7 800 M692.7 801.9 L694 801.7 L694.1 802.5 L692.8 802.7 L692.7 801.9 M690.3 806.3 L692.3 805.7 L692.7 807.3 L690.7 807.7 L690.3 806.3 M693.7 804 L695.3 803.7 L695.5 804.5 L693.9 804.8 L693.7 804 M686.3 826 L687.3 827.3 L688 829.3 L687.3 828.3 L686.3 826 M689.3 824.3 L690.3 826 L690 827.3 L689.3 824.3 M710 802 L706.7 802.7 L703.3 802.3 L700.7 802 L698.7 803.3 L697.3 805.3 L696.7 807.3 L698 809 L700.7 809.3 L699.3 811.3 L701 813 L701.7 814.3 L699.7 815 L701.3 816.3 L702.7 817.3 L700.7 818 L699.3 819.3 L702 820.3 L703.3 821.3 L702.7 823.3 L703.3 825.3 L704.7 827 L703.3 828.7 L706 829 L708 828 L709 829.3 L707 830.7 L708.7 831 L709.5 829.3 M710 797 L713 797.2 L714.5 797.6 L718 797.2 L714.5 798.8 L718 800 L715 800.7 L712 802.5 L710 803 M740 868.2 L742.5 868 L744.5 866.5 L746 863.5 L747.5 859.5 L748.5 856 L750 852 L751.5 848 L753.2 844.5 L753 840 L752.5 836.5 L754 834 L753 832 L754.5 829.5 L753.5 828.5 L751.5 830 L749 830.5 L746.5 829 L744.5 829.5 L742 832.5 L740 833.5 M732 842 L734 840 L737 839 L741 838.5 L745.5 837 L743 839 L741.5 840.5 L742.5 842 L739.5 842.5 L737 844.8 L733.5 844.5 L732 842 M752.5 836.5 L754.5 835.5 L757 834 L758 829.5 L762 830 L766.5 828.5 L770 830 L774 830 L779 828 L784 827 L790 825.5 L793 825 L797 825.5 L800.5 826 L801.5 828 L803 826.5 L803.5 823 L801.5 820 L802 816 L800.5 811 L802.5 809.5 L803.5 807.5 L802.5 805.5 M803.5 807.5 L806 811 L809 813.5 L814 814.5 L818 811.5 L822 809 L824 808 M803.5 807.5 L806 808 L808.5 810 L810.5 812.5 L814 814.3 M810.5 807.2 L813.5 808.5 L814.5 811.5 L814 814.3 M803 826.5 L804.5 830 L807 834 L810 836 L813.5 836.5 L811.5 838 L812.5 841 L810 843.5 L808.5 846.5 L808 849.5 L810.5 852 L812.5 854 L812 856 L816 858 L819.5 860 L822 864 L821.5 869 L824 870 L823.5 873 L824 875 M824 808 L823 810 L824 811.5 L823 814 L824 815 M793 825.2 L790 828 L787.5 830.5 L784.5 832 L784 835 L784.5 839 L784 843 L782.5 846 L778 848.5 L774 851 L770 853.5 L766 856 L762 858.5 L759 860.5 L755.5 860 L752.5 858.5 M770 853.5 L771 858 L772.5 861.8 L767 863.5 L762 865 L759.2 866.2 L762 869.5 L765 872.8 L762 876 L758 877.5 L755.5 880.5 L753.5 881.5 L748 880.5 M772.5 861.8 L779 863 L784 866 L789 869 L794 873.5 L799 877.5 L804 881.5 L814 882 L816 879.5 L818 876 L824 875.5 M814 882 L819.5 883 L821 885.5 L824 886.2 M824 875.5 L822.5 878 L824 880.5 M753.2 844.5 L756 844.5 L757.5 847.5 L755.5 850 L754 852 L753 855 L750 855 L748.5 856 M753 855 L752.5 858.5 L751.5 862 L750.5 866 L749.5 870 L748.5 874 L747.8 878 L748 880.5 M742.5 868 L744.5 873 L746.5 878 L747.2 880 M749.5 860 L748 862 L747.5 866 L749.5 866.5 L750.5 864 L751 860.5 L749.5 860 M747.2 879.5 L745.5 884 L744 890 M748 880.5 L746.5 886 L745.5 890 M536 619 L537.5 616 L540 613.5 L541.5 613.5 L540 616.5 L539.5 620 L538.5 623 L537.5 620.5 L536 619 M739.2 890.5 L738.5 889 L736 885.5 L734 882 L732.6 879 L732.5 878 L733.5 877.2 L734.8 878.2 L735.5 880.5 L737.5 884 L740 887.5 L742 890.5 M744.5 890.5 L747 888.3 L749.8 890.5"/></g>
<g class="grid" shape-rendering="crispEdges">
<line x1="430.5" y1="322" x2="430.5" y2="890"/><line x1="488.5" y1="322" x2="488.5" y2="890"/><line x1="546.5" y1="322" x2="546.5" y2="890"/><line x1="603.5" y1="322" x2="603.5" y2="890"/><line x1="661.5" y1="322" x2="661.5" y2="890"/><line x1="719.5" y1="322" x2="719.5" y2="890"/><line x1="777.5" y1="322" x2="777.5" y2="890"/>
<line x1="407" y1="485.5" x2="824" y2="485.5"/><line x1="407" y1="623.5" x2="824" y2="623.5"/><line x1="407" y1="724.5" x2="824" y2="724.5"/><line x1="407" y1="806.5" x2="824" y2="806.5"/><line x1="407" y1="876.5" x2="824" y2="876.5"/>
</g>
<g id="volcano" fill="none" stroke="#000" stroke-linecap="butt" stroke-linejoin="miter">
<path d="M435.7 565.3L439.4 554H449.6L453.3 565.3" stroke-width="1.7"/>
<path d="M435.2 565.3H442M447.2 565.3H453.8" stroke-width="2.6"/>
<path d="M439.4 554L437.1 547.6M444.4 554V546.8M449.6 554L451.9 547.6" stroke-width="1.5"/>
</g>
<rect x="406.5" y="321.5" width="418" height="569" fill="none" stroke="#000" stroke-width="1"/>
<g class="t14 mid">
<text x="430.1" y="310">20°W</text><text x="486.8" y="310">10°W</text><text x="545.1" y="310">0°</text><text x="602.4" y="310">10°E</text><text x="660.4" y="310">20°E</text><text x="718.3" y="310">30°E</text><text x="775.9" y="310">40°E</text>
<text x="430.1" y="912">20°W</text><text x="486.8" y="912">10°W</text><text x="545.1" y="912">0°</text><text x="602.4" y="912">10°E</text><text x="660.4" y="912">20°E</text><text x="718.3" y="912">30°E</text><text x="775.9" y="912">40°E</text>
</g>
<g class="t14 end">
<text x="398.7" y="490">70°N</text><text x="398.7" y="628">60°N</text><text x="398.7" y="729.6">50°N</text><text x="398.7" y="811">40°N</text><text x="398.7" y="881.6">30°N</text>
</g>
<g class="t14">
<text x="831" y="490">70°N</text><text x="831" y="628">60°N</text><text x="831" y="729.6">50°N</text><text x="831" y="811">40°N</text><text x="831" y="881.6">30°N</text>
</g>
<text class="t10" x="60" y="975" textLength="210.5">© Met Office Crown Copyright</text>
</svg>
</body></html>
